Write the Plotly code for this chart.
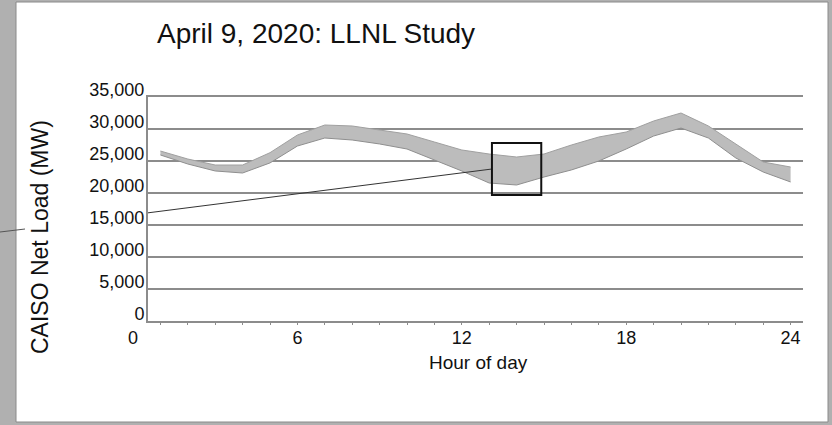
import plotly.graph_objects as go

# ---------------- data ----------------
hours = list(range(1, 25))
load_upper = [26560, 25310, 24375, 24375, 26300, 29060, 30625, 30470, 29840, 29220,
              27970, 26720, 26090, 25625, 26090, 27500, 28750, 29530, 31250, 32500,
              30470, 27660, 24840, 24060]
load_lower = [25940, 24530, 23440, 23125, 24700, 27340, 28590, 28280, 27660, 26875,
              25160, 23440, 21560, 21250, 22500, 23600, 25000, 26875, 28900, 30150,
              28590, 25470, 23280, 21720]
x_tick_vals = [0, 6, 12, 18, 24]
y_tick_vals = [0, 5000, 10000, 15000, 20000, 25000, 30000, 35000]
y_tick_text = ["0", "5,000", "10,000", "15,000", "20,000", "25,000", "30,000", "35,000"]
box_hours = [13.1, 14.9]
box_load = [19700, 27800]
leader_load_start = 16900

# ---------------- layout geometry (pixels) ----------------
W, H = 832, 425
PL, PR, PT, PB = 16, 828, 2, 422          # white panel
pw, ph = PR - PL, PB - PT
fx = lambda px: (px - PL) / pw
fy = lambda py: (PB - py) / ph
X0PX, XPXH = 133, 27.4                     # hour 0 pixel, pixels per hour
AX_L, AX_R, AX_T, AX_B = 148, 803, 97, 321
xr = [(AX_L - X0PX) / XPXH, (AX_R - X0PX) / XPXH]

FONT = "Liberation Sans, Arial, sans-serif"
GRID = "#8c8c8c"
FRAME = "#b0b0b0"

fig = go.Figure()
fig.add_trace(go.Scatter(x=hours, y=load_lower, mode="lines",
                         line=dict(color="#8f8f8f", width=1), showlegend=False,
                         hoverinfo="skip"))
fig.add_trace(go.Scatter(x=hours, y=load_upper, mode="lines", fill="tonexty",
                         fillcolor="#bcbcbc",
                         line=dict(color="#a0a0a0", width=1), showlegend=False,
                         hoverinfo="skip"))
# invisible trace so the hour-label axis is drawn
fig.add_trace(go.Scatter(x=[x_tick_vals[0], x_tick_vals[-1]], y=[0, 0], xaxis="x2", yaxis="y2",
                         mode="markers", marker=dict(opacity=0), showlegend=False,
                         hoverinfo="skip"))

frame_shapes = [
    # grey frame strips around the white panel (left, right, top, bottom)
    dict(type="rect", xref="paper", yref="paper", x0=fx(0), x1=fx(PL), y0=fy(H), y1=fy(0),
         fillcolor=FRAME, line=dict(width=0), layer="below"),
    dict(type="rect", xref="paper", yref="paper", x0=fx(PR), x1=fx(W), y0=fy(H), y1=fy(0),
         fillcolor=FRAME, line=dict(width=0), layer="below"),
    dict(type="rect", xref="paper", yref="paper", x0=fx(0), x1=fx(W), y0=fy(PT), y1=fy(0),
         fillcolor=FRAME, line=dict(width=0), layer="below"),
    dict(type="rect", xref="paper", yref="paper", x0=fx(0), x1=fx(W), y0=fy(H), y1=fy(PB),
         fillcolor=FRAME, line=dict(width=0), layer="below"),
]

fig.update_layout(
    width=W, height=H,
    margin=dict(l=PL, r=W - PR, t=PT, b=H - PB, autoexpand=False),
    paper_bgcolor=FRAME,
    plot_bgcolor="rgba(0,0,0,0)",
    font=dict(family=FONT, color="#111111", size=18),
    title=dict(text="April 9, 2020: LLNL Study", font=dict(size=28, family=FONT, color="#111111"),
               xref="container", yref="container", x=157 / W, xanchor="left",
               y=1 - 33 / H, yanchor="middle"),
    xaxis=dict(domain=[fx(AX_L), fx(AX_R)], range=xr, showgrid=False, zeroline=False,
               showline=True, mirror=True, linecolor=GRID, linewidth=1.5,
               showticklabels=False, ticks="outside", ticklen=2,
               tickcolor=GRID, dtick=1, tick0=0, anchor="y"),
    yaxis=dict(domain=[fy(AX_B), fy(AX_T)], range=[0, 35000], tickvals=y_tick_vals,
               ticktext=y_tick_text, showgrid=True, gridcolor=GRID, gridwidth=1.5,
               zeroline=False, showline=True, linecolor=GRID, linewidth=2,
               ticks="", ticklabelshift=-7, ticklabelstandoff=-2,
               tickfont=dict(size=18), anchor="x"),
    xaxis2=dict(domain=[fx(X0PX), fx(X0PX + 24 * XPXH)], range=[0, 24], tickvals=x_tick_vals,
                showgrid=False, zeroline=False, showline=False, ticks="",
                tickfont=dict(size=18), anchor="y2", ticklabelstandoff=4),
    yaxis2=dict(domain=[fy(AX_B), fy(AX_T)], range=[0, 35000], visible=False,
                anchor="x2", showgrid=False),
    shapes=frame_shapes + [
        dict(type="rect", xref="paper", yref="paper", x0=0, x1=1, y0=0, y1=1,
             fillcolor="white", line=dict(color="#8a8a8a", width=1), layer="below"),
        # leader line to the highlighted box
        dict(type="line", xref="x", yref="y", x0=xr[0], y0=leader_load_start,
             x1=box_hours[0], y1=(box_load[0] + box_load[1]) / 2,
             line=dict(color="#333333", width=1)),
        dict(type="line", xref="paper", yref="paper", x0=fx(0), y0=fy(232), x1=fx(25), y1=fy(229),
             line=dict(color="#555555", width=1)),
        dict(type="rect", xref="x", yref="y", x0=box_hours[0], x1=box_hours[1],
             y0=box_load[0], y1=box_load[1], line=dict(color="#111111", width=2)),
    ],
    annotations=[
        dict(text="CAISO Net Load (MW)", textangle=-90, xref="paper", yref="paper",
             x=fx(40), y=fy(237), xanchor="center", yanchor="middle", showarrow=False,
             font=dict(size=23, family=FONT, color="#111111")),
        dict(text="Hour of day", xref="paper", yref="paper", x=fx(478), y=fy(362),
             xanchor="center", yanchor="middle", showarrow=False,
             font=dict(size=19, family=FONT, color="#111111")),
    ],
)

fig.write_html("out.html", config={"displayModeBar": False},
               post_script="document.body.style.margin='0';")
